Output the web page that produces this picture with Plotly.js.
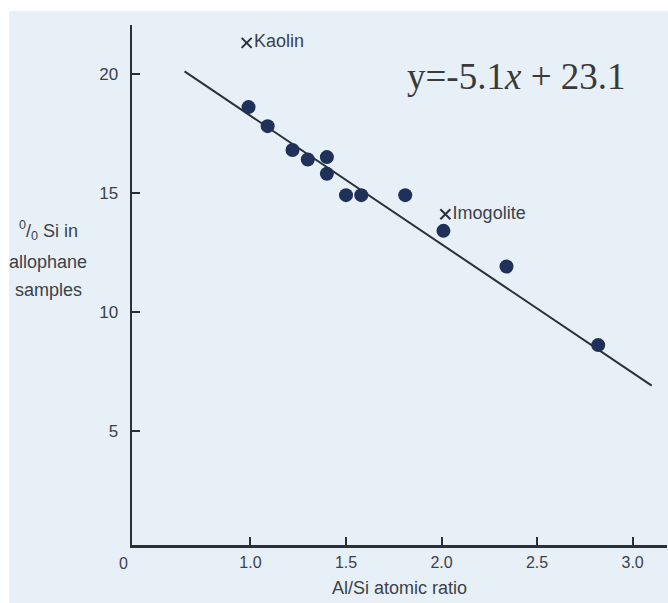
<!DOCTYPE html>
<html>
<head>
<meta charset="utf-8">
<script src="https://cdn.plot.ly/plotly-3.0.1.min.js"></script>
<style>
  html, body { margin: 0; padding: 0; background: #ffffff; }
  #chart { position: absolute; left: 9px; top: 11px; width: 659px; height: 592px; }
</style>
</head>
<body>
<div id="chart"></div>
<script>
// Allophane samples (filled dots)
const ratioAlSi = [0.99, 1.09, 1.22, 1.30, 1.40, 1.40, 1.50, 1.58, 1.81, 2.01, 2.34, 2.82];
const pctSi     = [18.6, 17.8, 16.8, 16.4, 16.5, 15.8, 14.9, 14.9, 14.9, 13.4, 11.9, 8.6];

// Reference minerals (crosses)
const refNames = ["Kaolin", "Imogolite"];
const refRatio = [0.98, 2.02];
const refSi    = [21.3, 14.1];

// Fitted line as drawn
const fitX = [0.655, 3.10];
const fitY = [20.1, 6.9];

// Axis ticks
const xTicks = [1.0, 1.5, 2.0, 2.5, 3.0];
const xTickText = ["1.0", "1.5", "2.0", "2.5", "3.0"];
const yTicks = [5, 10, 15, 20];
const yTickText = ["5", "10", "15", "20"];

const ink = "#2b2f3a";
const textCol = "#3c4149";
const dotCol = "#1f3159";
const font = "Liberation Sans, Arial, sans-serif";

const traces = [
  {
    x: fitX, y: fitY, mode: "lines", type: "scatter",
    line: { color: ink, width: 2 }, hoverinfo: "skip", showlegend: false
  },
  {
    x: ratioAlSi, y: pctSi, mode: "markers", type: "scatter",
    marker: { color: dotCol, size: 14, symbol: "circle" }, showlegend: false
  },
  {
    x: refRatio, y: refSi, mode: "markers+text", type: "scatter",
    text: refNames, textposition: "middle right",
    textfont: { family: font, size: 18, color: textCol },
    marker: { color: ink, size: 10, symbol: "x-thin-open", line: { width: 2, color: ink } },
    showlegend: false
  }
];

const layout = {
  width: 659, height: 592,
  margin: { l: 123, r: 1, t: 14, b: 58 },
  paper_bgcolor: "#e7f0f7",
  plot_bgcolor: "#e7f0f7",
  showlegend: false,
  xaxis: {
    range: [0.38, 3.18],
    tickvals: xTicks, ticktext: xTickText,
    ticks: "inside", ticklen: 8, tickwidth: 2, tickcolor: ink,
    showline: true, linecolor: ink, linewidth: 2.5,
    showgrid: false, zeroline: false,
    tickfont: { family: font, size: 16, color: textCol },
    ticklabelstandoff: 1,
    title: { text: "Al/Si atomic ratio", font: { family: font, size: 18, color: textCol }, standoff: 12 }
  },
  yaxis: {
    range: [0.2, 22.05],
    tickvals: yTicks, ticktext: yTickText,
    ticks: "inside", ticklen: 8, tickwidth: 2, tickcolor: ink,
    showline: true, linecolor: ink, linewidth: 2.5,
    showgrid: false, zeroline: false,
    tickfont: { family: font, size: 17, color: textCol },
    ticklabelstandoff: 8
  },
  annotations: [
    { text: "0", xref: "paper", yref: "paper", x: 0, y: 0, xanchor: "center", yanchor: "middle",
      xshift: -9, yshift: -18,
      showarrow: false, font: { family: font, size: 16, color: textCol } },
    { text: "<sup>0</sup>/<sub>0</sub> Si in", xref: "paper", yref: "paper", x: 0, y: 0,
      xanchor: "center", yanchor: "middle", xshift: -84, yshift: 534 - 219,
      showarrow: false, font: { family: font, size: 18, color: textCol } },
    { text: "allophane", xref: "paper", yref: "paper", x: 0, y: 0,
      xanchor: "center", yanchor: "middle", xshift: -84, yshift: 534 - 251,
      showarrow: false, font: { family: font, size: 18, color: textCol } },
    { text: "samples", xref: "paper", yref: "paper", x: 0, y: 0,
      xanchor: "center", yanchor: "middle", xshift: -84, yshift: 534 - 279,
      showarrow: false, font: { family: font, size: 18, color: textCol } },
    { text: "y=-5.1<i>x</i> + 23.1", xref: "paper", yref: "paper", x: 0, y: 0,
      xanchor: "left", yanchor: "middle", xshift: 405 - 132, yshift: 534 - 65,
      showarrow: false, font: { family: "Liberation Serif, Times New Roman, serif", size: 37, color: "#3a3a3a" } }
  ]
};

Plotly.newPlot("chart", traces, layout, { displayModeBar: false, staticPlot: true });
</script>
</body>
</html>
